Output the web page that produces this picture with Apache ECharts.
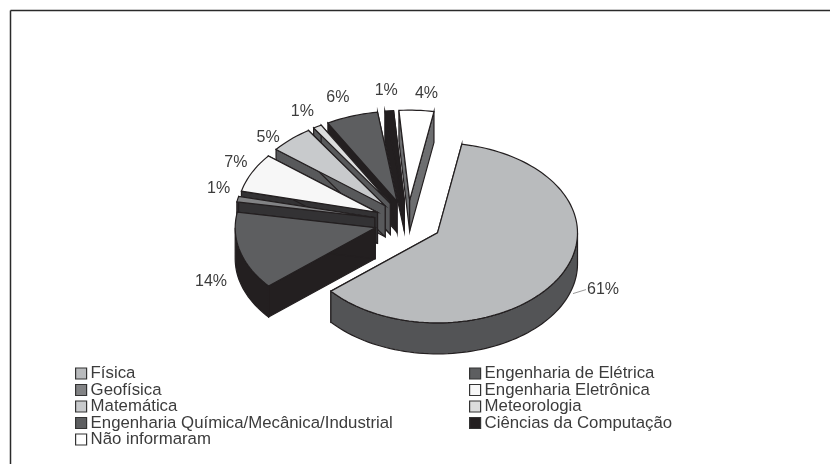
<!DOCTYPE html>
<html>
<head>
<meta charset="utf-8">
<style>html,body{margin:0;padding:0;background:#fff}#c{width:830px;height:464px;filter:blur(0.4px)}</style>
<script src="https://cdn.jsdelivr.net/npm/echarts@6/dist/echarts.min.js"></script>
</head>
<body>
<div id="c"></div>
<script>
const categories = ['Física','Engenharia de Elétrica','Geofísica','Engenharia Eletrônica','Matemática','Meteorologia','Engenharia Química/Mecânica/Industrial','Ciências da Computação','Não informaram'];
const values = [61,14,1,7,5,1,6,1,4];
const topColors = ['#b9bbbd','#5d5e60','#828385','#f7f7f7','#c8cacc','#dcdddd','#5d5e60','#231f20','#ffffff'];
const wallColors = ['#535456','#231f20','#333234','#333234','#58595b','#58595b','#231f20','#231f20','#6d6e70'];

// layout of the tilted pie
const cx = 408, cy = 222, rx = 140, ry = 90, depth = 31, explode = 34, startDeg = 10;
const tilt = ry / rx, lineColor = '#231f20';
const labelOffsets = [[44,12],[-29,30],[-19,-11],[-16,-10],[-23,-2],[-15,-15],[-14,-19],[-3,-20],[10,-17]];
const total = values.reduce((a, b) => a + b, 0);
const rad = d => d * Math.PI / 180;
const spans = [];
values.reduce((from, v) => { const to = from + v / total * 360; spans.push([from, to]); return to; }, startDeg);

function renderSlice(i, params, api) {
  const [a0, a1] = spans[i], mid = (a0 + a1) / 2;
  const ax = cx + explode * Math.sin(rad(mid));
  const ay = cy - explode * tilt * Math.cos(rad(mid));
  const onArc = a => [ax + rx * Math.sin(rad(a)), ay - ry * Math.cos(rad(a))];
  const low = p => [p[0], p[1] + depth];
  const arcPts = (from, to) => {
    const n = Math.max(2, Math.ceil((to - from) / 2)), out = [];
    for (let k = 0; k <= n; k++) out.push(onArc(from + (to - from) * k / n));
    return out;
  };
  const top = api.visual('color');
  const wallStyle = { fill: wallColors[i], stroke: lineColor, lineWidth: 1.2 };
  const apex = [ax, ay];
  const children = [];
  [a0, a1].forEach(a => {
    const p = onArc(a);
    children.push({ type: 'polygon', shape: { points: [apex, p, low(p), low(apex)] }, style: wallStyle });
  });
  const f0 = Math.max(a0, 90), f1 = Math.min(a1, 270);
  if (f1 > f0) {
    const strip = arcPts(f0, f1);
    children.push({ type: 'polygon', shape: { points: strip.concat(strip.slice().reverse().map(low)) }, style: wallStyle });
  }
  children.push({ type: 'polygon', shape: { points: [apex].concat(arcPts(a0, a1)) }, style: { fill: top, stroke: lineColor, lineWidth: 1.2 } });
  const m = onArc(mid), lx = m[0] + labelOffsets[i][0], ly = m[1] + labelOffsets[i][1];
  if (i === 0) {
    children.push({ type: 'line', shape: { x1: lx - 30, y1: ly + 4, x2: lx - 17, y2: ly }, style: { stroke: '#9a9a9a', lineWidth: 1 } });
  }
  children.push({ type: 'text', x: lx, y: ly, style: { text: values[i] + '%', fill: '#3c3c3c', font: '16px "Liberation Sans"', align: 'center', verticalAlign: 'middle' } });
  return { type: 'group', children };
}

// back slices are painted first
const order = values.map((_, i) => i).sort((p, q) => {
  const c = i => Math.cos(rad((spans[i][0] + spans[i][1]) / 2));
  return c(q) - c(p);
});

const legendBase = {
  orient: 'vertical', icon: 'rect', itemWidth: 11, itemHeight: 11, itemGap: -0.5, selectedMode: false,
  itemStyle: { borderColor: '#333', borderWidth: 1.2 }, padding: 0,
  textStyle: { fontFamily: '"Liberation Sans"', fontSize: 16.8, color: '#3c3c3c', padding: [0, 0, 0, -1], lineHeight: 16 }
};

const chart = echarts.init(document.getElementById('c'), null, { renderer: 'canvas' });
chart.setOption({
  animation: false,
  backgroundColor: '#fff',
  legend: [
    Object.assign({}, legendBase, { left: 75, top: 365, data: categories.filter((_, i) => i % 2 === 0) }),
    Object.assign({}, legendBase, { left: 469, top: 365, data: categories.filter((_, i) => i % 2 === 1) })
  ],
  graphic: [
    { type: 'line', shape: { x1: 10.5, y1: 10.5, x2: 830, y2: 10.5 }, style: { stroke: '#2a2a2a', lineWidth: 1.5 } },
    { type: 'line', shape: { x1: 10.5, y1: 10.5, x2: 10.5, y2: 464 }, style: { stroke: '#2a2a2a', lineWidth: 1.5 } }
  ],
  series: categories.map((name, i) => ({
    type: 'custom',
    name,
    coordinateSystem: 'none',
    silent: true,
    z: 2 + order.indexOf(i),
    itemStyle: { color: topColors[i] },
    data: [values[i]],
    renderItem: (params, api) => renderSlice(i, params, api)
  }))
});
</script>
</body>
</html>
